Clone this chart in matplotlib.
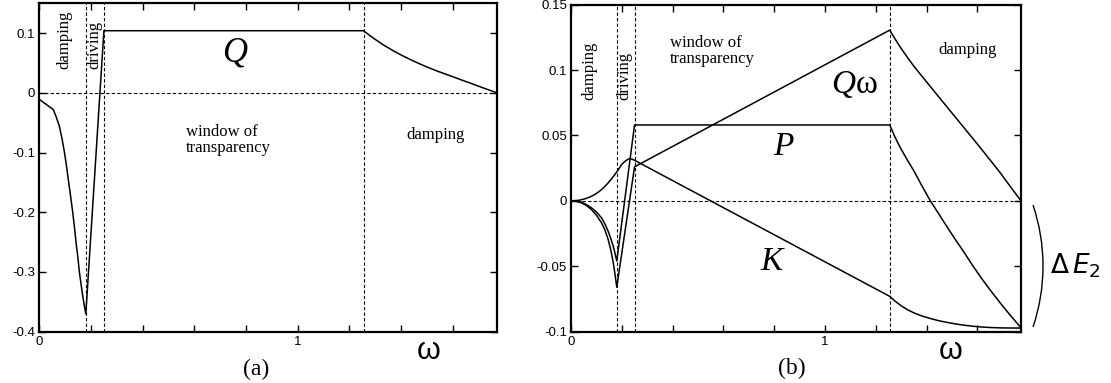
import matplotlib
matplotlib.use("Agg")
import matplotlib.pyplot as plt
from matplotlib.patches import Arc
from matplotlib.transforms import IdentityTransform

# ---- data ----
# panel (a): Q(omega)
qa_w = [0, 0.054, 0.065, 0.077, 0.087, 0.097, 0.105, 0.113, 0.121, 0.129, 0.136,
        0.142, 0.149, 0.155, 0.162, 0.168, 0.174, 0.18, 0.25,
        1.255, 1.29, 1.331, 1.37, 1.40, 1.435, 1.47, 1.505,
        1.54, 1.575, 1.61, 1.641, 1.67, 1.70, 1.735, 1.772]
qa_v = [-0.011, -0.028, -0.040, -0.055, -0.075, -0.099, -0.122, -0.148, -0.173, -0.199, -0.225,
        -0.25, -0.275, -0.30, -0.322, -0.34, -0.356, -0.37, 0.104,
        0.104, 0.0925, 0.0805, 0.0705, 0.0635, 0.056, 0.049, 0.0425,
        0.0365, 0.031, 0.0255, 0.0205, 0.016, 0.0112, 0.0056, 0.0]

# panel (b): Q*omega, P, K
qw_w = [0, 0.02, 0.041, 0.06, 0.08, 0.10, 0.12, 0.133, 0.146, 0.156, 0.166, 0.173, 0.18, 0.25,
        1.255, 1.28, 1.30, 1.325, 1.351, 1.385, 1.42, 1.45, 1.483, 1.515, 1.55,
        1.58, 1.615, 1.65, 1.69, 1.73, 1.772]
qw_v = [0, -0.0003, -0.0015, -0.0035, -0.0066, -0.011, -0.0168, -0.022, -0.0295, -0.037,
        -0.047, -0.056, -0.066, 0.026,
        0.1305, 0.1225, 0.1165, 0.1095, 0.1027, 0.0945, 0.0862, 0.0790, 0.0712, 0.0636, 0.0553,
        0.0482, 0.0398, 0.0313, 0.0215, 0.0109, 0.0]

p_w = [0, 0.02, 0.041, 0.06, 0.08, 0.10, 0.12, 0.133, 0.146, 0.156, 0.166, 0.173, 0.18, 0.25,
       1.255, 1.275, 1.297, 1.325, 1.351, 1.383, 1.415, 1.45, 1.483, 1.515, 1.55,
       1.58, 1.615, 1.65, 1.69, 1.73, 1.772]
p_v = [0, -0.0002, -0.001, -0.0028, -0.0053, -0.0085, -0.013, -0.0175, -0.0232, -0.0285,
       -0.0346, -0.040, -0.046, 0.058,
       0.058, 0.049, 0.0405, 0.031, 0.0226, 0.011, 0.0, -0.0105, -0.0206, -0.030, -0.040,
       -0.049, -0.0588, -0.068, -0.078, -0.0875, -0.097]

k_w = [0, 0.03, 0.054, 0.075, 0.093, 0.107, 0.12, 0.133, 0.146, 0.159, 0.172, 0.186,
       0.199, 0.21, 0.218, 0.225, 0.232, 0.241, 0.25,
       1.255, 1.275, 1.30, 1.325, 1.351, 1.385, 1.42, 1.45, 1.483, 1.515, 1.55,
       1.58, 1.615, 1.65, 1.69, 1.73, 1.772]
k_v = [0, 0.0004, 0.0015, 0.003, 0.0048, 0.0066, 0.0086, 0.011, 0.0137, 0.0167, 0.020, 0.0238,
       0.0277, 0.0298, 0.031, 0.0318, 0.0323, 0.0318, 0.031,
       -0.073, -0.0765, -0.0802, -0.0832, -0.0857, -0.0882, -0.0902, -0.0917, -0.093, -0.0941,
       -0.0951, -0.0958, -0.0964, -0.0968, -0.0971, -0.0972, -0.0972]

# region boundaries
bounds = [0.18, 0.25, 1.255]
xticks = [0, 0.2, 0.4, 0.6, 0.8, 1.0, 1.2, 1.4, 1.6]
xlabels = ['0', '', '', '', '', '1', '', '', '']
ya_ticks = [-0.4, -0.3, -0.2, -0.1, 0, 0.1]
ya_labels = ['-0.4', '-0.3', '-0.2', '-0.1', '0', '0.1']
yb_ticks = [-0.1, -0.05, 0, 0.05, 0.1, 0.15]
yb_labels = ['-0.1', '-0.05', '0', '0.05', '0.1', '0.15']

SERIF = 'Liberation Serif'
SANS = 'Liberation Sans'
dash = (0, (3, 2))

fig = plt.figure(figsize=(11.11, 3.83), dpi=100)
axa = fig.add_axes([0.0354, 0.134, 0.412, 0.8575])
axb = fig.add_axes([0.514, 0.134, 0.405, 0.854])


def style(ax, yt, yl, ylim):
    ax.set_xlim(0, 1.772)
    ax.set_ylim(*ylim)
    ax.set_xticks(xticks)
    ax.set_xticklabels(xlabels)
    ax.set_yticks(yt)
    ax.set_yticklabels(yl)
    ax.tick_params(direction='in', top=True, right=True, length=5, width=1,
                   labelsize=9.5, pad=3)
    for lab in ax.get_xticklabels() + ax.get_yticklabels():
        lab.set_family(SANS)
    for s in ax.spines.values():
        s.set_linewidth(1.6)
    ax.axhline(0, color='k', lw=0.8, ls=dash)
    for b in bounds:
        ax.axvline(b, color='k', lw=0.8, ls=dash)


# ---- panel (a) ----
style(axa, ya_ticks, ya_labels, (-0.4, 0.15))
axa.plot(qa_w, qa_v, color='k', lw=1.1)
axa.text(0.098, 0.0406, 'damping', rotation=90, ha='center', va='bottom',
         family=SERIF, fontsize=12)
axa.text(0.215, 0.0406, 'driving', rotation=90, ha='center', va='bottom',
         family=SERIF, fontsize=12)
axa.text(0.758, 0.067, 'Q', ha='center', va='center', family=SERIF,
         style='italic', fontsize=25)
axa.text(0.568, -0.053, 'window of\ntransparency', ha='left', va='top',
         family=SERIF, fontsize=12, linespacing=1.0)
axa.text(1.532, -0.071, 'damping', ha='center', va='center', family=SERIF, fontsize=12)

# ---- panel (b) ----
style(axb, yb_ticks, yb_labels, (-0.1, 0.15))
axb.plot(qw_w, qw_v, color='k', lw=1.1)
axb.plot(p_w, p_v, color='k', lw=1.1)
axb.plot(k_w, k_v, color='k', lw=1.1)
axb.text(0.073, 0.0773, 'damping', rotation=90, ha='center', va='bottom',
         family=SERIF, fontsize=12)
axb.text(0.211, 0.0773, 'driving', rotation=90, ha='center', va='bottom',
         family=SERIF, fontsize=12)
axb.text(0.391, 0.1265, 'window of\ntransparency', ha='left', va='top',
         family=SERIF, fontsize=12, linespacing=1.0)
axb.text(1.121, 0.0888, 'Q', ha='right', va='center', family=SERIF,
         style='italic', fontsize=24)
axb.text(1.121, 0.0888, 'ω', ha='left', va='center', family=SERIF, fontsize=24)
axb.text(0.837, 0.0414, 'P', ha='center', va='center', family=SERIF,
         style='italic', fontsize=24)
axb.text(0.79, -0.0463, 'K', ha='center', va='center', family=SERIF,
         style='italic', fontsize=24)
axb.text(1.563, 0.1155, 'damping', ha='center', va='center', family=SERIF, fontsize=12)

# ---- figure labels ----
fig.text(0.2304, 0.0366, '(a)', ha='center', va='center', family=SERIF, fontsize=17)
fig.text(0.713, 0.039, '(b)', ha='center', va='center', family=SERIF, fontsize=17)
fig.text(0.386, 0.0836, 'ω', ha='center', va='center', family=SANS, fontsize=22)
fig.text(0.856, 0.0836, 'ω', ha='center', va='center', family=SANS, fontsize=22)
fig.text(0.945, 0.3055, r'$\Delta\,E_2$', ha='left', va='center', fontsize=19)
# bracket ")" next to panel (b), drawn in pixel coordinates
fig.add_artist(Arc((852, 383 - 266), 382, 382, theta1=-18.6, theta2=18.6,
                   transform=IdentityTransform(), color='k', lw=1.0))

fig.savefig('out.png', dpi=100)
